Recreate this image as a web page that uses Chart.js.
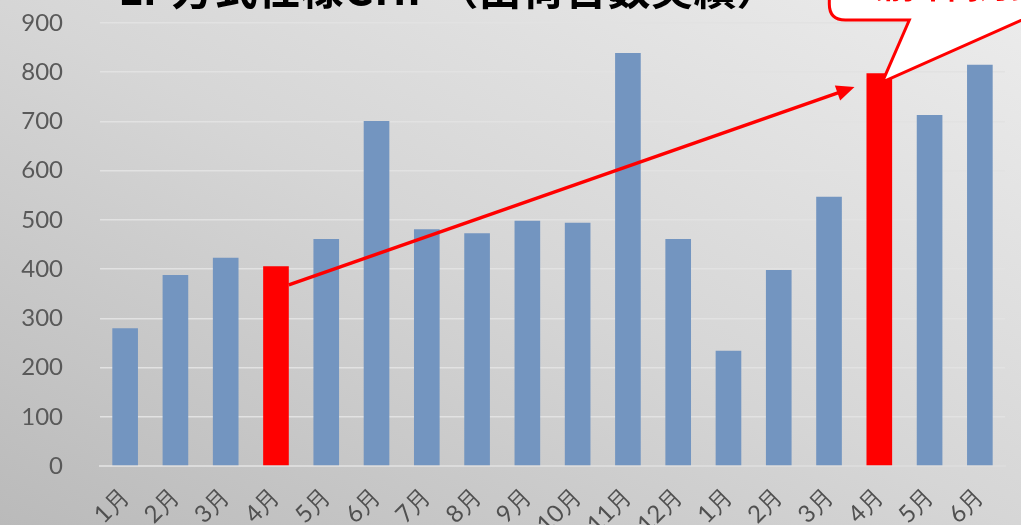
<!DOCTYPE html>
<html>
<head>
<meta charset="utf-8">
<script src="https://cdn.jsdelivr.net/npm/chart.js@4"></script>
<style>
  html, body { margin: 0; padding: 0; overflow: hidden; }
  body {
    width: 1021px; height: 525px;
    background: linear-gradient(to bottom left, #ececec 0%, #d6d6d6 50%, #bababa 100%);
  }
  #wrap { position: relative; width: 1021px; height: 525px; }
</style>
</head>
<body>
<div id="wrap"><canvas id="grafica" width="1021" height="525"></canvas></div>
<script>
// meses (dos años seguidos)
const etiquetas = ["1月", "2月", "3月", "4月", "5月", "6月", "7月", "8月", "9月", "10月", "11月", "12月",
                   "1月", "2月", "3月", "4月", "5月", "6月"];
// unidades enviadas por mes
const valores = [280, 388, 423, 406, 461, 701, 481, 473, 498, 494, 839, 461,
                 234, 398, 547, 798, 713, 815];
// los meses resaltados en rojo
const resaltados = [3, 15];
const ticksY = [0, 100, 200, 300, 400, 500, 600, 700, 800, 900];

const titulo = "LP方式仕様GHP（出荷台数実績）";
const textoGlobo = "（前年同月比約2倍）";

const colores = valores.map((v, i) => resaltados.includes(i) ? '#ff0000' : '#7395c0');

// dibuja titulo, flecha y globo
const anotaciones = {
  id: 'anotaciones',
  afterDatasetsDraw(chart) {
    const ctx = chart.ctx;
    const y = chart.scales.y;
    const barras = chart.getDatasetMeta(0).data;
    const a = barras[resaltados[0]];
    const b = barras[resaltados[1]];

    // flecha
    const x1 = a.x + a.width / 2, y1 = y.getPixelForValue(368);
    const x2 = b.x - b.width / 2 - 12, y2 = y.getPixelForValue(770);
    const ang = Math.atan2(y2 - y1, x2 - x1);
    ctx.save();
    ctx.strokeStyle = '#ff0000';
    ctx.fillStyle = '#ff0000';
    ctx.lineWidth = 3.5;
    ctx.beginPath();
    ctx.moveTo(x1, y1);
    ctx.lineTo(x2 - 10 * Math.cos(ang), y2 - 10 * Math.sin(ang));
    ctx.stroke();
    ctx.beginPath();
    ctx.moveTo(x2, y2);
    ctx.lineTo(x2 - 18 * Math.cos(ang) + 8 * Math.sin(ang), y2 - 18 * Math.sin(ang) - 8 * Math.cos(ang));
    ctx.lineTo(x2 - 18 * Math.cos(ang) - 8 * Math.sin(ang), y2 - 18 * Math.sin(ang) + 8 * Math.cos(ang));
    ctx.closePath();
    ctx.fill();

    // globo con punta hacia la barra
    const px = b.x + 3, py = y.getPixelForValue(780);
    const izq = b.x - 50, abajo = 20, r = 16;
    ctx.beginPath();
    ctx.moveTo(izq, -20);
    ctx.lineTo(izq, abajo - r);
    ctx.quadraticCurveTo(izq, abajo, izq + r, abajo);
    ctx.lineTo(b.x + 30, abajo);
    ctx.lineTo(px, py);
    ctx.lineTo(1040, abajo - 8);
    ctx.lineTo(1040, -20);
    ctx.closePath();
    ctx.fillStyle = '#ffffff';
    ctx.fill();
    ctx.lineWidth = 3;
    ctx.strokeStyle = '#ff0000';
    ctx.stroke();
    ctx.fillStyle = '#ff0000';
    ctx.font = 'bold 32px "Noto Sans CJK JP"';
    ctx.textBaseline = 'alphabetic';
    ctx.fillText(textoGlobo, izq + 22, -2);

    // titulo (cortado arriba)
    ctx.fillStyle = '#000000';
    ctx.font = 'bold 43px "Noto Sans CJK JP"';
    ctx.fillText(titulo, 118, 5);
    ctx.restore();
  }
};

const $grafica = document.querySelector("#grafica");
new Chart($grafica, {
  type: 'bar',
  data: {
    labels: etiquetas,
    datasets: [{
      data: valores,
      backgroundColor: colores,
      borderWidth: 0,
      barPercentage: 0.51,
      categoryPercentage: 1.0,
    }]
  },
  options: {
    responsive: false,
    animation: false,
    layout: { padding: { top: 23, right: 16, left: 0, bottom: 0 } },
    plugins: { legend: { display: false }, tooltip: { enabled: false }, title: { display: false } },
    scales: {
      x: {
        grid: { display: false, drawTicks: false },
        border: { display: true, color: '#dcdcdc', width: 2 },
        ticks: {
          color: '#505050',
          font: { family: 'Lato', size: 24 },
          maxRotation: 45, minRotation: 45,
          autoSkip: false,
          padding: 16,
        },
        afterFit(scale) { scale.height = 59; scale.paddingTop = 0; scale.paddingBottom = 0; }
      },
      y: {
        min: 0, max: 900,
        afterBuildTicks(scale) { scale.ticks = ticksY.map(v => ({ value: v })); },
        grid: { color: '#e2e2e2', lineWidth: 1.5, drawTicks: false },
        border: { display: false },
        ticks: {
          color: '#595959',
          font: { family: 'Lato', size: 24 },
          padding: 37,
        },
        afterFit(scale) { scale.width = 100; scale.paddingTop = 0; scale.paddingBottom = 0; }
      }
    }
  },
  plugins: [anotaciones]
});
</script>
</body>
</html>
